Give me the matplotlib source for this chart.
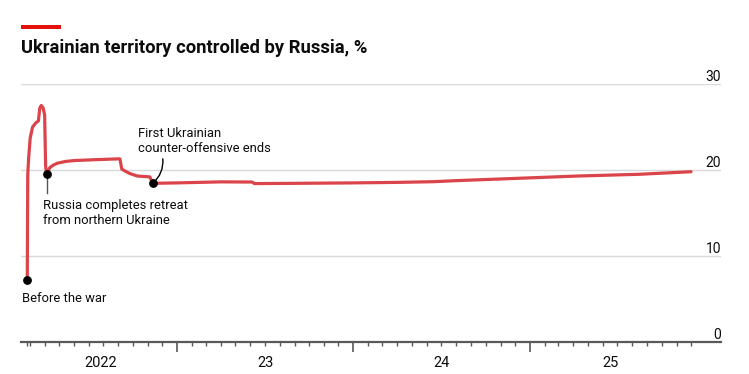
import matplotlib
matplotlib.use("Agg")
import matplotlib.pyplot as plt
import matplotlib.dates as mdates
from matplotlib import font_manager as fm
from matplotlib.transforms import blended_transform_factory, ScaledTranslation
import pandas as pd

# ---------------- data ----------------
dates = ["2022-02-24", "2022-02-25", "2022-02-27", "2022-03-02", "2022-03-07",
         "2022-03-14", "2022-03-19", "2022-03-22", "2022-03-25", "2022-03-29",
         "2022-04-01", "2022-04-03", "2022-04-05", "2022-04-12", "2022-04-20",
         "2022-04-28", "2022-05-15", "2022-06-02", "2022-07-15", "2022-09-04",
         "2022-09-08", "2022-09-14", "2022-09-24", "2022-10-10", "2022-11-05",
         "2022-11-11", "2023-01-01", "2023-04-01", "2023-06-05", "2023-06-10",
         "2023-09-01", "2024-01-01", "2024-04-01", "2024-06-15", "2024-07-31",
         "2024-12-15", "2025-04-10", "2025-08-15", "2025-12-01"]
share = [7.2, 19.5, 21.5, 23.7, 25.0,
         25.5, 25.7, 27.2, 27.5, 27.2,
         26.4, 20.5, 19.5, 20.3, 20.6,
         20.8, 21.0, 21.1, 21.2, 21.3,
         20.1, 19.9, 19.6, 19.3, 19.2,
         18.45, 18.5, 18.62, 18.6, 18.42,
         18.45, 18.5, 18.56, 18.64, 18.76,
         19.05, 19.3, 19.5, 19.8]

annot_dates = ["2022-02-24", "2022-04-05", "2022-11-11"]
annot_values = [7.2, 19.5, 18.45]
annot_texts = ["Before the war", "Russia completes retreat\nfrom northern Ukraine",
               "First Ukrainian\ncounter-offensive ends"]

y_ticks = [0, 10, 20, 30]
year_ticks = ["2023-01-01", "2024-01-01", "2025-01-01"]
year_label_pos = ["2022-07-27", "2023-07-02", "2024-07-01", "2025-06-17"]
year_labels = ["2022", "23", "24", "25"]
x_limits = ["2022-02-11", "2026-02-01"]

title = "Ukrainian territory controlled by Russia, %"

# ---------------- fonts ----------------
available = {f.name for f in fm.fontManager.ttflist}
def pick(cands):
    for c in cands:
        if c in available:
            return c
    return "DejaVu Sans"
title_font = pick(["Roboto", "Lato", "DejaVu Sans"])
body_font = pick(["Roboto", "Lato", "DejaVu Sans"])

RED_LINE = "#DB444B"
RED_BAR = "#E3120B"
GRID = "#D9D9D9"
AXIS = "#595959"
TEXT = "#0C0C0C"

# ---------------- figure ----------------
W, H = 749, 374
fig = plt.figure(figsize=(W / 100, H / 100), dpi=100)
ax = fig.add_axes([21 / W, 32 / H, 700 / W, 258 / H])

x = pd.to_datetime(dates)
ax.plot(x, share, color=RED_LINE, lw=2.3, solid_joinstyle="round",
        solid_capstyle="round", zorder=3)

ax.set_xlim(pd.to_datetime(x_limits[0]), pd.to_datetime(x_limits[1]))
ax.set_ylim(y_ticks[0], y_ticks[-1])

# grid
for v in y_ticks[1:]:
    ax.axhline(v, color=GRID, lw=1.0, zorder=1)
for s in ["top", "right", "left"]:
    ax.spines[s].set_visible(False)
ax.spines["bottom"].set_color(AXIS)
ax.spines["bottom"].set_linewidth(1.6)
ax.set_yticks([])

# y labels on the right above gridlines
trans_y = blended_transform_factory(ax.transAxes, ax.transData)
for v in y_ticks:
    ax.text(1.0, v, str(v), transform=trans_y, ha="right", va="bottom",
            fontsize=10, family=body_font, color=TEXT)

# x ticks
ax.set_xticks(pd.to_datetime(year_ticks))
minor = list(pd.date_range("2022-03-01", "2025-12-01", freq="MS")) + [pd.to_datetime(dates[0])]
ax.set_xticks(minor, minor=True)
ax.tick_params(axis="x", which="major", length=7.5, width=1.2, color=AXIS,
               labelbottom=False)
ax.tick_params(axis="x", which="minor", length=3, width=1.0, color=AXIS,
               labelbottom=False)
trans_x = blended_transform_factory(ax.transData, ax.transAxes)
for d, lab in zip(year_label_pos, year_labels):
    ax.text(pd.to_datetime(d), -0.08, lab, transform=trans_x, ha="center",
            va="center", fontsize=10.5, family=body_font, color=TEXT)

# annotations
ad = pd.to_datetime(annot_dates)
ax.scatter(ad, annot_values, s=28, color="black", zorder=5, clip_on=False)

ax.text(ad[0], annot_values[0] - 2.1, annot_texts[0], ha="left", va="center",
        fontsize=9.4, family=body_font, color=TEXT,
        transform=ax.transData + ScaledTranslation(-5 / 100, 0, fig.dpi_scale_trans))

ax.plot([ad[1], ad[1]], [annot_values[1], annot_values[1] - 2.2], color="#555555",
        lw=1.0, zorder=4)
ax.text(ad[1], annot_values[1] - 4.5, annot_texts[1], ha="left", va="center",
        fontsize=9.4, family=body_font, color=TEXT, linespacing=1.2,
        transform=ax.transData + ScaledTranslation(-4 / 100, 0, fig.dpi_scale_trans))

ax.annotate("", xy=(ad[2], annot_values[2]),
            xytext=(pd.to_datetime("2022-12-02"), 21.3),
            arrowprops=dict(arrowstyle="-", color="black", lw=1.0,
                            connectionstyle="arc3,rad=-0.25",
                            shrinkA=0, shrinkB=0), zorder=4)
ax.text(pd.to_datetime("2022-10-12"), 23.4, annot_texts[2], ha="left", va="center",
        fontsize=9.4, family=body_font, color=TEXT, linespacing=1.2)

# title and red bar
fig.add_artist(plt.Rectangle((21 / W, 1 - 28.7 / H), 40 / W, 4 / H,
                             transform=fig.transFigure, color=RED_BAR, lw=0))
fig.text(21 / W, 1 - 53.3 / H, title, ha="left", va="baseline",
         fontsize=13.2, fontweight="bold", family=title_font, color=TEXT)

fig.savefig("out.png", dpi=100)
